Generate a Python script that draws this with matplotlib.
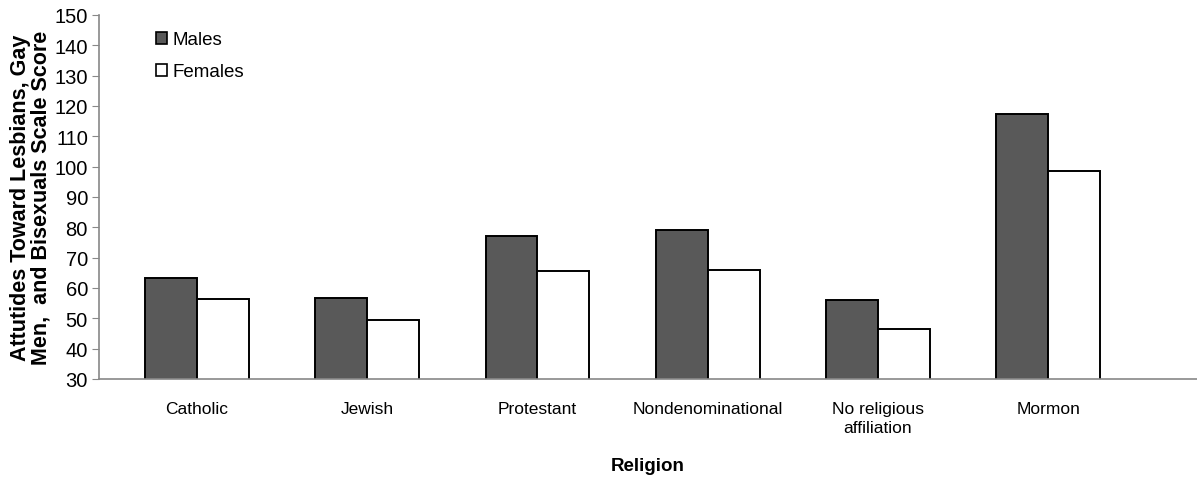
import numpy as np
import matplotlib.pyplot as plt
from matplotlib.patches import Patch

plt.rcParams["font.family"] = ["Liberation Sans", "DejaVu Sans"]

religions = ["Catholic", "Jewish", "Protestant", "Nondenominational",
             "No religious\naffiliation", "Mormon"]
males = [63.2, 56.6, 77.1, 79.1, 56.1, 117.3]
females = [56.4, 49.4, 65.7, 65.9, 46.5, 98.4]

x = np.arange(len(religions))
w = 0.305

fig = plt.figure(figsize=(11.97, 4.81), dpi=100)
ax = fig.add_axes([0.0827, 0.21, 0.9173, 0.757])

ax.bar(x - w / 2, males, w, bottom=0, color="#595959", edgecolor="black", linewidth=1.4)
ax.bar(x + w / 2, females, w, bottom=0, color="white", edgecolor="black", linewidth=1.4)

ax.set_ylim(30, 150)
ax.set_xlim(-0.576, 5.875)
ax.set_yticks(range(30, 151, 10))
ax.set_xticks(x)
ax.set_xticklabels(religions, fontsize=12.5, linespacing=1.3)
ax.tick_params(axis="x", length=0, pad=16)
ax.tick_params(axis="y", direction="out", length=5, color="#888888", labelsize=14.5, pad=3)

for s in ["top", "right"]:
    ax.spines[s].set_visible(False)
for s in ["left", "bottom"]:
    ax.spines[s].set_color("#888888")
    ax.spines[s].set_linewidth(1.2)

ax.set_ylabel("Attutides Toward Lesbians, Gay\nMen,  and Bisexuals Scale Score",
              fontsize=15.5, fontweight="bold", linespacing=0.95, labelpad=2)
ax.set_xlabel("Religion", fontsize=13.5, fontweight="bold")
ax.xaxis.set_label_coords(0.5, -0.215)

handles = [Patch(facecolor="#595959", edgecolor="black", linewidth=1.2),
           Patch(facecolor="white", edgecolor="black", linewidth=1.2)]
ax.legend(handles, ["Males", "Females"], loc="upper left", frameon=False,
          bbox_to_anchor=(0.116, 0.968), bbox_transform=fig.transFigure,
          fontsize=13.5, handlelength=0.6, handleheight=0.6, handletextpad=0.3,
          labelspacing=0.8)

fig.savefig("out.png", dpi=100)
